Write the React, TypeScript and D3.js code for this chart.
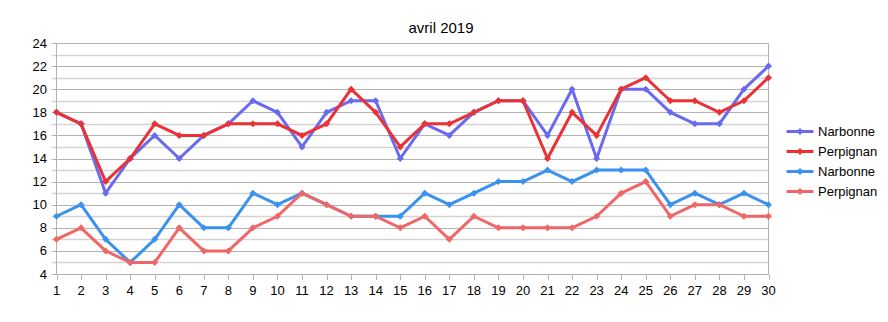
import React from "react";
import * as d3 from "d3";

const days = d3.range(1, 31);
const narbonneMax = [18,17,11,14,16,14,16,17,19,18,15,18,19,19,14,17,16,18,19,19,16,20,14,20,20,18,17,17,20,22];
const perpignanMax = [18,17,12,14,17,16,16,17,17,17,16,17,20,18,15,17,17,18,19,19,14,18,16,20,21,19,19,18,19,21];
const narbonneMin = [9,10,7,5,7,10,8,8,11,10,11,10,9,9,9,11,10,11,12,12,13,12,13,13,13,10,11,10,11,10];
const perpignanMin = [7,8,6,5,5,8,6,6,8,9,11,10,9,9,8,9,7,9,8,8,8,8,9,11,12,9,10,10,9,9];
const seriesNames = ["Narbonne", "Perpignan", "Narbonne", "Perpignan"];
const seriesColors = ["#6a6af0", "#ea3236", "#3a92ee", "#f06666"];
const title = "avril 2019";
const yTicks = d3.range(4, 25, 2);
const yMinor = d3.range(5, 24, 2);

export default function App() {
  const left = 56.5, right = 768.5, top = 43, bottom = 274;
  const x = d3.scalePoint<number>().domain(days).range([left, right]);
  const y = d3.scaleLinear().domain([4, 24]).range([bottom, top]);
  const all = [narbonneMax, perpignanMax, narbonneMin, perpignanMin];
  const line = d3.line<number>().x((_, i) => x(days[i])!).y((v) => y(v));
  const font = "Liberation Sans, Arial, sans-serif";
  const diamond = (cx: number, cy: number, r = 3.5) =>
    `M${cx},${cy - r}L${cx + r},${cy}L${cx},${cy + r}L${cx - r},${cy}Z`;
  return (
    <svg width={888} height={322} style={{ position: "absolute", left: 0, top: 0, background: "#fff" }} fontFamily={font}>
      <rect width={888} height={322} fill="#fff" />
      <text x={441} y={32.5} textAnchor="middle" fontSize={15} fill="#000">{title}</text>
      {yMinor.map((v) => (
        <line key={"m" + v} x1={left - 5} x2={right} y1={Math.round(y(v)) + 0.5} y2={Math.round(y(v)) + 0.5} stroke="#d4d4d4" strokeWidth={1.5} />
      ))}
      {yTicks.map((v) => (
        <line key={"g" + v} x1={left - 5} x2={right} y1={Math.round(y(v)) + 0.5} y2={Math.round(y(v)) + 0.5} stroke="#b3b3b3" strokeWidth={1} />
      ))}
      {yTicks.map((v) => (
        <text key={"t" + v} x={47} y={y(v)} dy="0.35em" textAnchor="end" fontSize={13} fill="#000">{v}</text>
      ))}
      <line x1={left} x2={left} y1={top} y2={bottom} stroke="#b3b3b3" />
      <line x1={right} x2={right} y1={top} y2={bottom} stroke="#b3b3b3" />
      {days.map((d) => (
        <g key={"x" + d}>
          <line x1={Math.round(x(d)!) + 0.5} x2={Math.round(x(d)!) + 0.5} y1={bottom} y2={bottom + 6} stroke="#b3b3b3" />
          <text x={x(d)} y={295} textAnchor="middle" fontSize={13} fill="#000">{d}</text>
        </g>
      ))}
      {all.map((vals, si) => (
        <g key={"s" + si}>
          <path d={line(vals)!} fill="none" stroke={seriesColors[si]} strokeWidth={3} strokeLinejoin="round" />
          {vals.map((v, i) => (
            <path key={i} d={diamond(x(days[i])!, y(v))} fill={seriesColors[si]} />
          ))}
        </g>
      ))}
      {seriesNames.map((n, i) => {
        const cy = 131.5 + i * 20;
        return (
          <g key={"l" + i}>
            <line x1={786.5} x2={813.5} y1={cy} y2={cy} stroke={seriesColors[i]} strokeWidth={3} />
            <path d={diamond(800, cy)} fill={seriesColors[i]} />
            <text x={818} y={cy} dy="0.35em" fontSize={13} fill="#000">{n}</text>
          </g>
        );
      })}
    </svg>
  );
}
